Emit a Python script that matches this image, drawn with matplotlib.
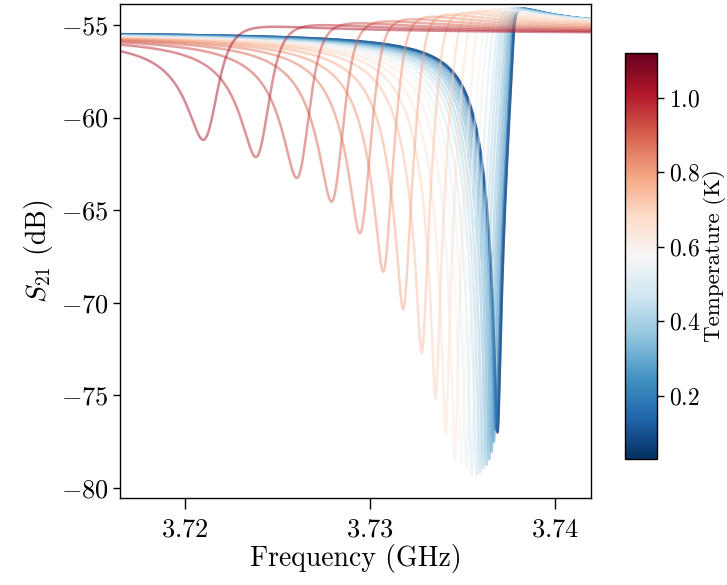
import numpy as np
import matplotlib
matplotlib.use("Agg")
import matplotlib.pyplot as plt
from matplotlib import colors, cm

plt.rcParams.update({
    "font.family": "serif",
    "font.serif": ["cmr10"],
    "mathtext.fontset": "cm",
    "axes.formatter.use_mathtext": True,
    "axes.unicode_minus": True,
})

# ---- data (one entry per temperature sweep) ----
temperatures = [0.03, 0.06, 0.10, 0.14, 0.18, 0.22, 0.26, 0.30, 0.34, 0.38, 0.42, 0.46, 0.50,
                0.54, 0.58, 0.62, 0.66, 0.70, 0.74, 0.78, 0.82, 0.86, 0.90, 0.94, 0.98, 1.02]
dip_freqs = [3.73690, 3.73689, 3.73687, 3.73684, 3.73680, 3.73670, 3.73658, 3.73645, 3.73630,
             3.73612, 3.73595, 3.73577, 3.73550, 3.73522, 3.73495, 3.73459, 3.73409, 3.73355,
             3.73280, 3.73180, 3.73072, 3.72946, 3.72793, 3.72605, 3.72384, 3.72100]
dip_levels = [-77.0, -77.0, -76.9, -76.8, -76.87, -77.5, -78.04, -78.45, -78.76, -78.94, -79.17,
              -79.30, -79.26, -78.94, -78.67, -78.45, -77.05, -75.16, -72.69, -70.35, -68.32,
              -66.25, -64.54, -63.26, -62.13, -61.20]
baselines = [-55.30, -55.30, -55.30, -55.30, -55.30, -55.31, -55.31, -55.32, -55.32, -55.33,
             -55.33, -55.34, -55.34, -55.35, -55.36, -55.37, -55.38, -55.39, -55.40, -55.41,
             -55.43, -55.45, -55.47, -55.49, -55.51, -55.53]
loaded_q = [2400, 2400, 2380, 2350, 2300, 2250, 2200, 2150, 2100, 2050, 2000, 1950, 1900,
            1850, 1820, 1790, 1760, 1720, 1680, 1640, 1600, 1560, 1520, 1480, 1440, 1400]
nonlinearity = [0.50, 0.50, 0.50, 0.49, 0.48, 0.47, 0.46, 0.44, 0.42, 0.40, 0.38, 0.36, 0.34,
                0.32, 0.30, 0.28, 0.26, 0.24, 0.22, 0.20, 0.18, 0.16, 0.13, 0.10, 0.07, 0.05]
asym_phase = -0.55
t_min, t_max = 0.03, 1.12

fig = plt.figure(figsize=(7.27, 5.85), dpi=100)
ax = fig.add_axes([0.165, 0.1487, 0.648, 0.8443])
cax = fig.add_axes([0.860, 0.2154, 0.044, 0.6940])
cmap = plt.get_cmap("RdBu_r")
norm = colors.Normalize(t_min, t_max)

ygrid = 0.05 * np.sinh(np.linspace(-7.2, 7.2, 8000))
for i in np.argsort(temperatures):
    m = 10 ** ((dip_levels[i] - baselines[i]) / 20.0)
    q = (1 - m ** 2) / (np.cos(asym_phase) + m)
    s21 = 1 - q * np.exp(1j * asym_phase) / (1 + 2j * ygrid)
    a = nonlinearity[i]
    y0 = ygrid + a / (1 + 4 * ygrid ** 2)
    keep = y0 >= np.maximum.accumulate(y0)
    db = baselines[i] + 20 * np.log10(np.abs(s21))
    imin = np.argmin(db)
    f0 = dip_freqs[i] / (1 + y0[imin] / loaded_q[i])
    f = f0 * (1 + y0 / loaded_q[i])
    ax.plot(f[keep], db[keep], color=cmap(norm(temperatures[i])), lw=1.8, alpha=0.5)

ax.set_xlim(3.7165, 3.74195)
ax.set_ylim(-80.54, -53.87)
ax.set_xticks([3.72, 3.73, 3.74])
ax.set_yticks([-80, -75, -70, -65, -60, -55])
ax.tick_params(axis="x", direction="out", length=8, width=1.0, labelsize=19, pad=6)
ax.tick_params(axis="y", direction="out", length=5, width=1.0, labelsize=19, pad=3)
for sp in ax.spines.values():
    sp.set_linewidth(1.0)
ax.set_xlabel("Frequency (GHz)", fontsize=20, labelpad=2)
ax.set_ylabel(r"$S_{21}$ (dB)", fontsize=20, labelpad=4)

cb = fig.colorbar(cm.ScalarMappable(norm=norm, cmap=cmap), cax=cax)
cb.set_ticks([0.2, 0.4, 0.6, 0.8, 1.0])
cb.ax.tick_params(direction="out", length=5, width=1.0, labelsize=17)
cb.outline.set_linewidth(1.0)
cb.set_label("Temperature (K)", fontsize=16.5, labelpad=2)

fig.savefig("out.png", dpi=100)
